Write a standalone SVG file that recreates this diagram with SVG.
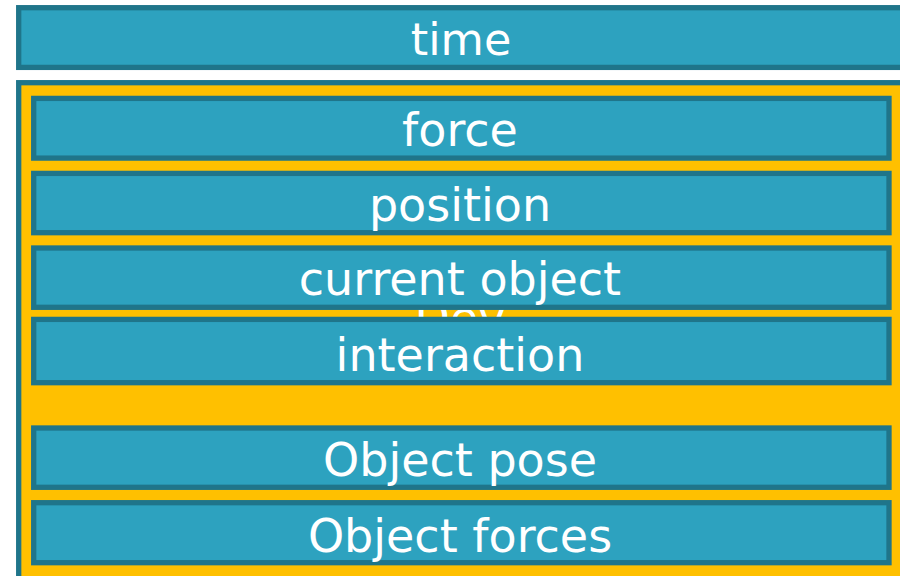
<svg xmlns="http://www.w3.org/2000/svg" width="900" height="576" viewBox="0 0 900 576">
  <style>
    .bar { fill: #2da2bf; stroke: #1f758a; stroke-width: 5.3; }
    .frame { fill: #ffc000; stroke: #1f758a; stroke-width: 5.3; }
    .label { font-family: "DejaVu Sans", "Noto Sans", sans-serif; font-size: 46px; fill: #ffffff; text-anchor: middle; }
  </style>
  <rect width="900" height="576" fill="#ffffff"/>

  <!-- top timeline bar -->
  <g id="time">
    <rect class="bar" x="18.7" y="7.7" width="890" height="59.7"/>
    <text class="label" x="461" y="55" style="font-size:44.5px">time</text>
  </g>

  <!-- Dev container, its title sits behind the stacked bars -->
  <g id="dev">
    <rect class="frame" x="18.7" y="82.7" width="890" height="500"/>
    <text class="label" x="460" y="334">Dev</text>
  </g>

  <g id="force">
    <rect class="bar" x="33.7" y="98.4" width="855.3" height="59.7"/>
    <text class="label" x="460" y="146">force</text>
  </g>

  <g id="position">
    <rect class="bar" x="33.7" y="173.4" width="855.3" height="59.3"/>
    <text class="label" x="460" y="221">position</text>
  </g>

  <g id="current-object">
    <rect class="bar" x="33.7" y="248" width="855.3" height="59.3"/>
    <text class="label" x="460" y="295">current object</text>
  </g>

  <g id="interaction">
    <rect class="bar" x="33.7" y="319.4" width="855.3" height="63.3"/>
    <text class="label" x="460" y="371">interaction</text>
  </g>

  <g id="object-pose">
    <rect class="bar" x="33.7" y="428" width="855.3" height="59.3"/>
    <text class="label" x="460" y="476">Object pose</text>
  </g>

  <g id="object-forces">
    <rect class="bar" x="33.7" y="502.7" width="855.3" height="60"/>
    <text class="label" x="460" y="552">Object forces</text>
  </g>

  <g id="connectors"/>
</svg>
